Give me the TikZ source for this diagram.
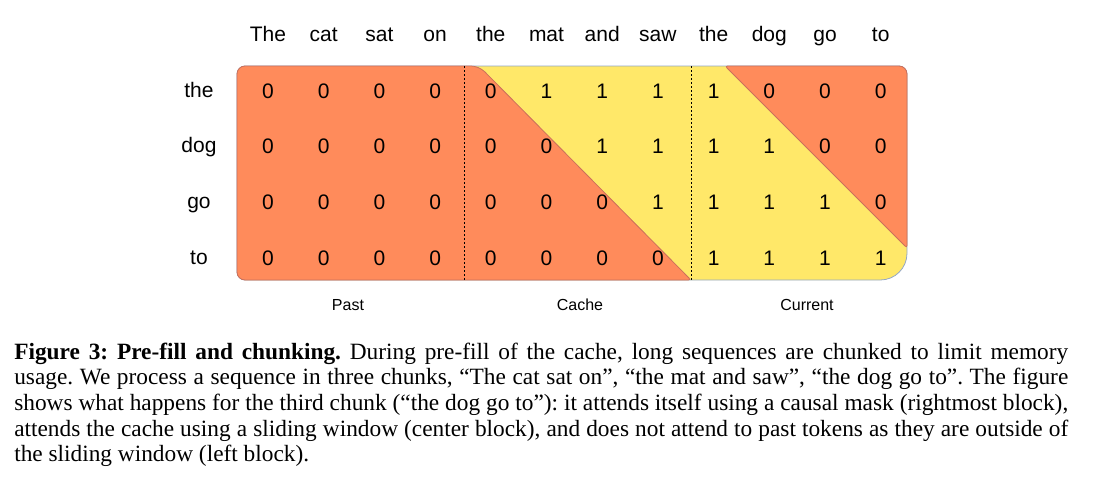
\documentclass[tikz,border=0pt]{standalone}
\usepackage{fontspec}
\setmainfont{Liberation Serif}
\setsansfont{Liberation Sans}
\usetikzlibrary{positioning}
\definecolor{maskorange}{HTML}{FF8B5B}
\definecolor{maskyellow}{HTML}{FFE869}
\definecolor{orangeline}{HTML}{C9705C}
\definecolor{yellowline}{HTML}{93A7C6}

\begin{document}
\begin{tikzpicture}[x=0.75pt, y=-0.75pt,
  token/.style={font=\sffamily\fontsize{15.75}{18}\selectfont, anchor=base, inner sep=0pt},
  cell/.style={token},
  blocklabel/.style={font=\sffamily\fontsize{12}{14}\selectfont, anchor=base, inner sep=0pt},
  divider/.style={black, line width=0.75pt, dash pattern=on 1.5pt off 1.5pt}]

\useasboundingbox (0,0) rectangle (1097,489);

%mask background
\coordinate (nw) at (237,66);
\coordinate (ne) at (907,66);
\coordinate (se) at (907,280);
\coordinate (sw) at (237,280);
\filldraw[fill=maskyellow, draw=yellowline, line width=0.6pt]
  (237,173) [rounded corners=6pt] -- (nw) -- (ne)
  [rounded corners=20pt] -- (se) [rounded corners=6pt] -- (sw) -- cycle;

%past and sliding window
\filldraw[fill=maskorange, draw=orangeline, line width=0.6pt]
  (237,173) [rounded corners=6pt] -- (nw) -- (479,66)
  [rounded corners=2pt] -- (691,280) [rounded corners=6pt] -- (sw) -- cycle;

%causal mask
\filldraw[fill=maskorange, draw=orangeline, line width=0.6pt]
  (725,66) [rounded corners=6pt] -- (ne)
  [rounded corners=2pt] -- (907,248) -- cycle;

\coordinate (cachestart) at (464,66);
\coordinate (currentstart) at (691,66);
\draw[divider] (cachestart) -- (464,280);
\draw[divider] (currentstart) -- (691,280);

%tokens
\foreach \w [count=\i from 0] in {The,cat,sat,on,the,mat,and,saw,the,dog,go,to}
  \node[token] (top-\i) at (268+55.7*\i, 41) {\w};
\foreach \w [count=\j from 0] in {the,dog,go,to}
  \node[token] (side-\j) at (199, 97+55.7*\j) {\w};

%mask values
\foreach \row [count=\j from 0] in {{0,0,0,0,0,1,1,1,1,0,0,0},
                                    {0,0,0,0,0,0,1,1,1,1,0,0},
                                    {0,0,0,0,0,0,0,1,1,1,1,0},
                                    {0,0,0,0,0,0,0,0,1,1,1,1}}
  \foreach \v [count=\i from 0] in \row
    \node[cell] (m-\j-\i) at (268+55.7*\i, 98+55.7*\j) {\v};

\node[blocklabel] (past) at (348,310) {Past};
\node[blocklabel] (cache) at (580,310) {Cache};
\node[blocklabel] (current) at (807,310) {Current};

%caption
\node[anchor=base west, inner sep=0pt, text width=790.5pt, align=justify,
      font=\fontsize{17.5}{19.3}\selectfont] (caption) at (14,359)
  {\frenchspacing\textbf{Figure 3: Pre-fill and chunking.} During pre-fill of the cache, long sequences are chunked to limit memory\linebreak
   usage. We process a sequence in three chunks, “The cat sat on”, “the mat and saw”, “the dog go to”. The figure\linebreak
   shows what happens for the third chunk (“the dog go to”): it attends itself using a causal mask (rightmost block),\linebreak
   attends the cache using a sliding window (center block), and does not attend to past tokens as they are outside of\linebreak
   the sliding window (left block).};

\end{tikzpicture}
\end{document}
